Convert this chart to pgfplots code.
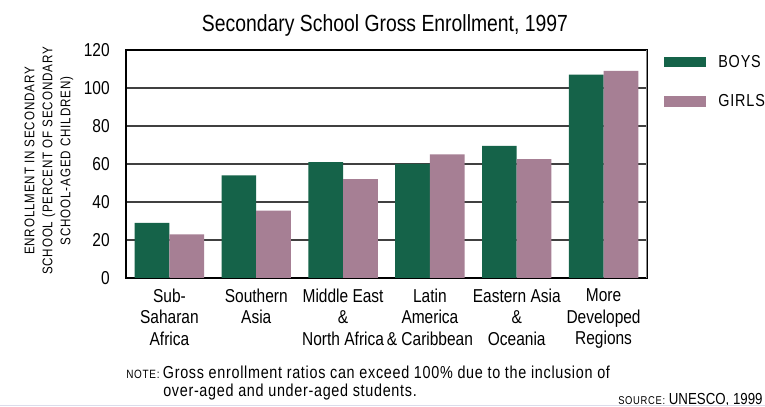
\documentclass[border=0pt]{standalone}
\usepackage{fontspec}
\setmainfont[FakeStretch=0.83]{Liberation Sans}
\setsansfont[FakeStretch=0.83]{Liberation Sans}
\usepackage{pgfplots}
\pgfplotsset{compat=1.18}
\definecolor{boys}{HTML}{156349}
\definecolor{girls}{HTML}{A67F94}
\definecolor{botline}{HTML}{DCDCEB}
\begin{document}
\begin{tikzpicture}[x=0.75pt,y=0.75pt]
\useasboundingbox (0,0) rectangle (765,407);
\clip (0,0) rectangle (765,407);
\fill[white] (0,0) rectangle (765,407);
\begin{axis}[
  at={(94.5pt,96.75pt)}, anchor=south west,
  scale only axis, width=390.75pt, height=171pt,
  ybar=0pt, bar width=0.4,
  xmin=-0.5, xmax=5.5, ymin=0, ymax=120,
  xtick={0,1,2,3,4,5},
  xticklabels={{Sub-\\Saharan\\Africa},{Southern\\Asia},{Middle East\\\&\\North Africa},{Latin\\America\\\& Caribbean},{Eastern Asia\\\&\\Oceania},{More\\Developed\\Regions}},
  ytick={0,20,40,60,80,100,120},
  major tick length=0pt,
  ymajorgrids, major grid style={black!75, line width=1pt},
  axis line style={black, line width=0.9pt},
  /pgf/number format/assume math mode=true,
  tick label style={font=\fontsize{14}{16}\selectfont},
  xticklabel style={align=center, inner sep=0pt, yshift=-8pt, font=\fontsize{14}{16}\selectfont},
  yticklabel style={inner sep=0pt, xshift=-12pt},
  legend style={at={(1,1)}, anchor=north west, xshift=12.75pt, yshift=-1.5pt,
    draw=none, fill=none, inner sep=0pt, row sep=15pt,
    font=\fontsize{13}{15}\selectfont\addfontfeatures{LetterSpace=5},
    cells={anchor=west},
    /tikz/every odd column/.append style={column sep=7pt}},
  legend image code/.code={\fill[#1] (0pt,-4.1pt) rectangle (31.5pt,4.1pt);},
]
\addplot[fill=boys, draw=none] coordinates {(0,29) (1,54) (2,61) (3,60) (4,69.5) (5,107)};
\addplot[fill=girls, draw=none] coordinates {(0,23) (1,35.5) (2,52) (3,65) (4,62.5) (5,109)};
\legend{BOYS,GIRLS}
\draw[black!45, line width=1pt] (rel axis cs:1,0) -- (rel axis cs:1,1);
\end{axis}
\node[anchor=base, font=\fontsize{17.5}{20}\selectfont] at (385,375) {Secondary School Gross Enrollment, 1997};
\node[rotate=90, align=center, font=\fontsize{10.5}{13.5}\selectfont\addfontfeatures{LetterSpace=6}] at (49,246) {ENROLLMENT IN SECONDARY\\SCHOOL (PERCENT OF SECONDARY\\SCHOOL-AGED CHILDREN)};
\node[anchor=base west, inner sep=0pt, font=\fontsize{13}{15}\selectfont\addfontfeatures{LetterSpace=4}] at (126,28) {{\fontsize{9}{10}\selectfont\addfontfeatures{LetterSpace=6}NOTE:}\hspace{2.5pt}Gross enrollment ratios can exceed 100\% due to the inclusion of};
\node[anchor=base west, inner sep=0pt, font=\fontsize{13}{15}\selectfont\addfontfeatures{LetterSpace=4}] at (163,10) {over-aged and under-aged students.};
\node[anchor=base west, inner sep=0pt, font=\fontsize{12}{14}\selectfont] at (618,2) {{\fontsize{8.5}{10}\selectfont\addfontfeatures{LetterSpace=6}SOURCE:} UNESCO, 1999};
\draw[botline, line width=1pt] (0,1.5) -- (765,1.5);
\end{tikzpicture}
\end{document}
